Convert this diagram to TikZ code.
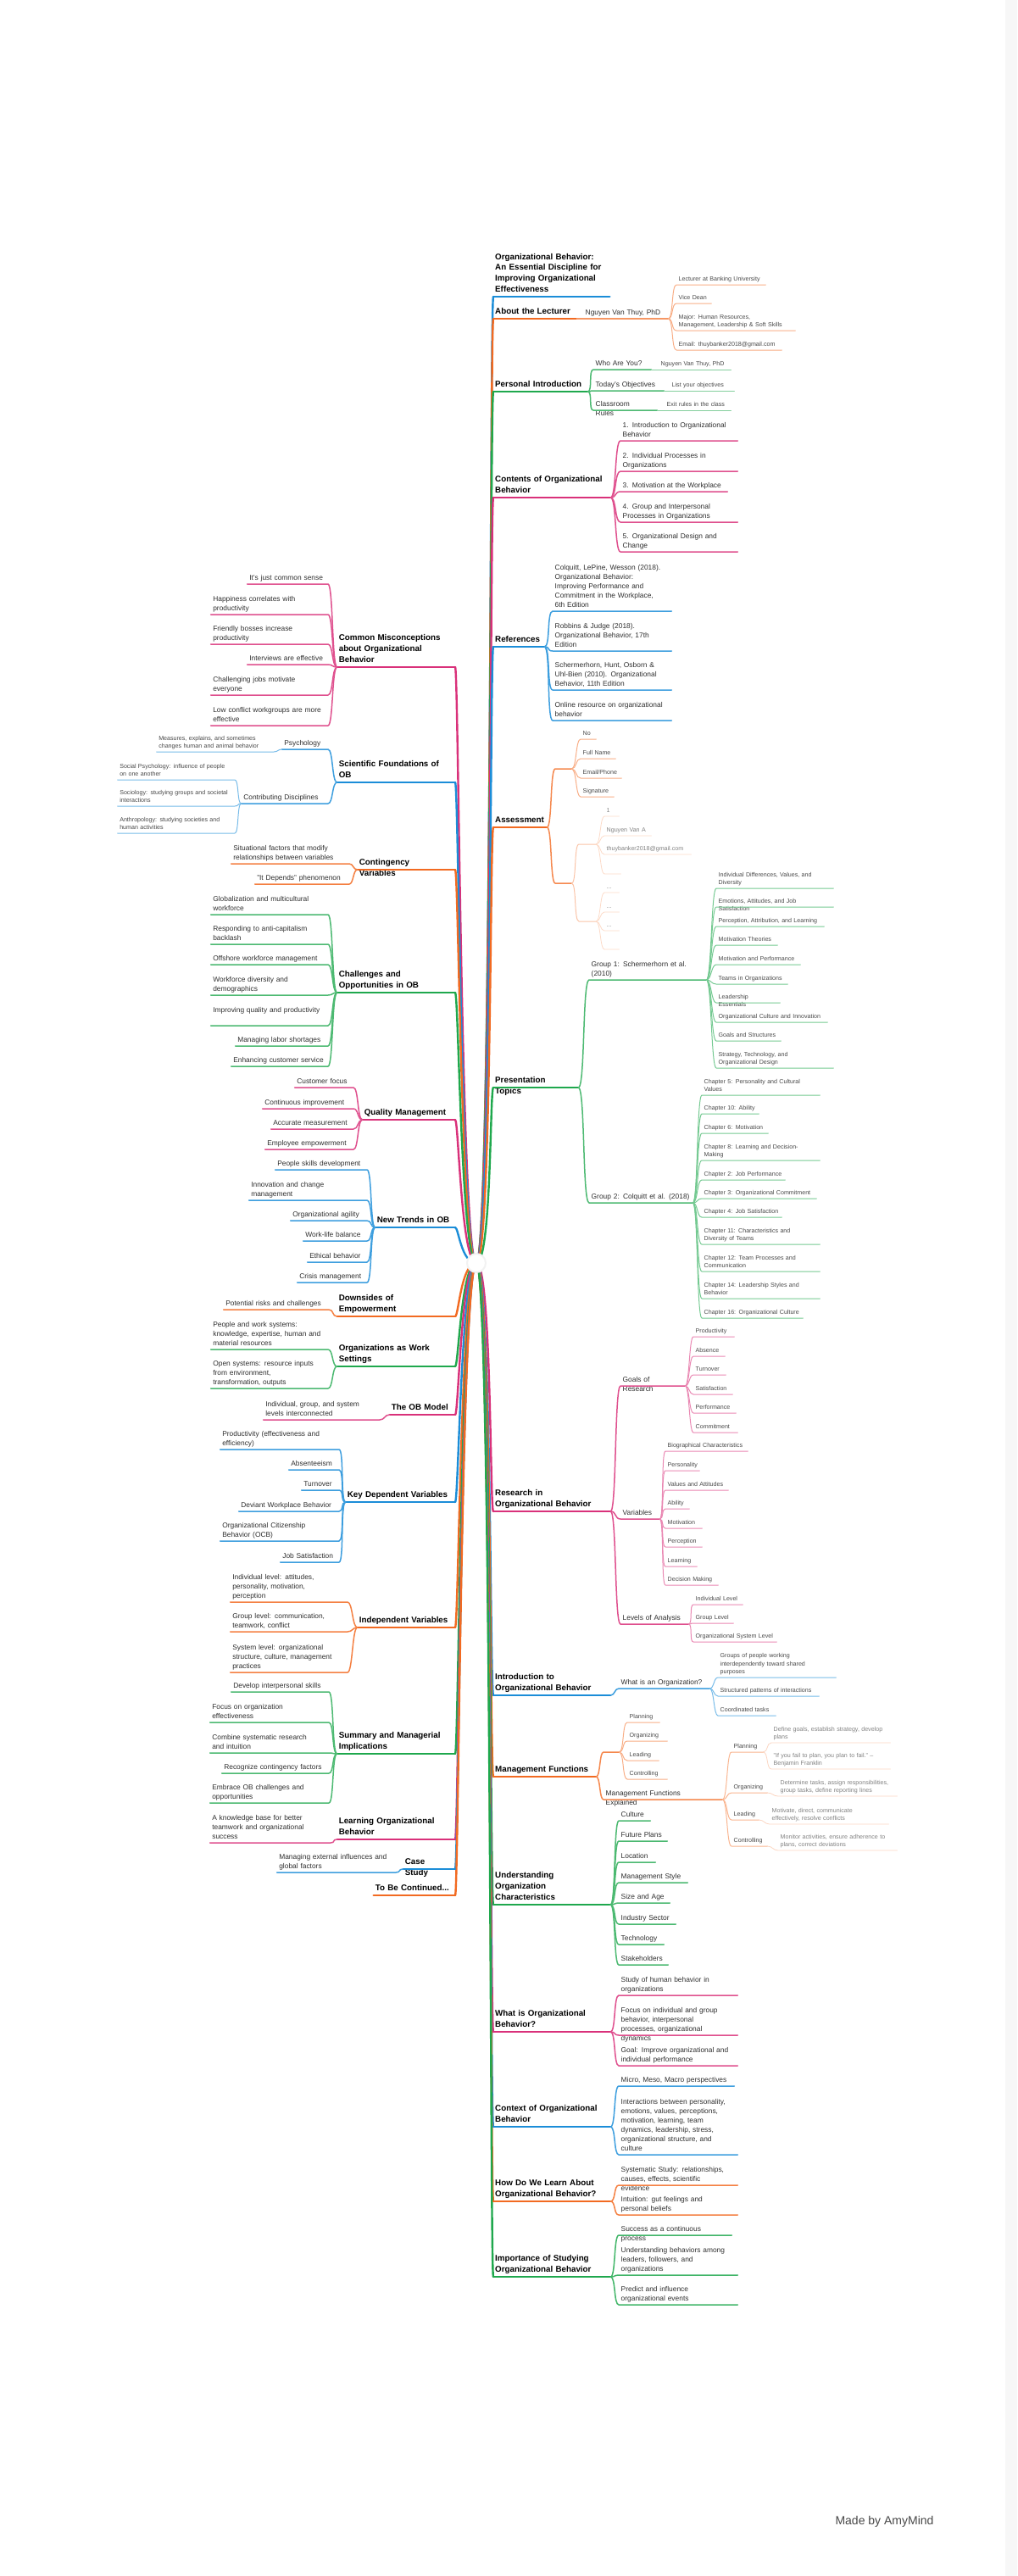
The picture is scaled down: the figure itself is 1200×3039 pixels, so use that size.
\documentclass[tikz,border=0pt]{standalone}
\usepackage{fontspec}
\setmainfont{Liberation Sans}
\usepackage{xcolor}
\usetikzlibrary{positioning, backgrounds}

\definecolor{obblue}{HTML}{1B8DD8}
\definecolor{oborange}{HTML}{F26A21}
\definecolor{obgreen}{HTML}{1FA84D}
\definecolor{obpink}{HTML}{D9317A}
\newcommand\dropline[2]{\leavevmode\rlap{\raisebox{-#1}[0pt][0pt]{#2}}}

\tikzset{
  topic/.style={anchor=south west, align=left, inner xsep=2pt, inner ysep=1.5pt,
    font=\bfseries\fontsize{9.8}{12.8}\selectfont, text=black, execute at end node=\strut},
  sub/.style={anchor=south west, align=left, inner xsep=2.5pt, inner ysep=1.5pt,
    font=\fontsize{8.4}{11}\selectfont, text=black!82, execute at end node=\strut},
  leaf/.style={sub, font=\fontsize{7.1}{9.3}\selectfont, text=black!72},
  faint/.style={leaf, text=black!50},
  toleft/.style={anchor=south east},
  l1/.style={line width=2.4pt, line cap=round},
  l2/.style={line width=1.5pt, line cap=round},
  l3/.style={line width=1pt, line cap=round},
  l4/.style={line width=0.8pt, line cap=round},
  hub/.style={circle, fill=white, draw=black!5, line width=2pt, minimum size=22pt, inner sep=0pt}
}

\begin{document}
\begin{tikzpicture}[x=1pt, y=-1pt]
\useasboundingbox (0,0) rectangle (1200,3039);
\fill[black!3] (1186,0) rectangle (1200,3039);
\node[hub] (hub) at (562,1490) {};

% main branches, right of the hub
\foreach \nm/\y/\w/\col/\txt in {title/350/133/obblue/{Organizational Behavior:\\An Essential Discipline for\\Improving Organizational\\Effectiveness},%
    lect/376/94/oborange/{About the Lecturer},%
    pintro/462/107/obgreen/{Personal Introduction},%
    cont/587/134/obpink/{Contents of Organizational\\Behavior},%
    refs/763/56/obblue/{References},%
    assess/976/59/oborange/{Assessment},%
    pres/1283/96/obgreen/{\dropline{13pt}{Topics}Presentation},%
    research/1783/134/obpink/{Research in\\Organizational Behavior},%
    intro/2000/134/obblue/{Introduction to\\Organizational Behavior},%
    mgmt/2096/117/oborange/{Management Functions},%
    orgchar/2247/134/obgreen/{Understanding\\Organization\\Characteristics},%
    whatob/2397/134/obpink/{What is Organizational\\Behavior?},%
    context/2509/134/obblue/{Context of Organizational\\Behavior},%
    learn/2597/134/oborange/{How Do We Learn About\\Organizational Behavior?},%
    importance/2686/134/obgreen/{Importance of Studying\\Organizational Behavior}} {
  \node[topic, text width=\w pt] (\nm) at (582,\y) {\txt};
  \draw[l1, draw=\col] (\nm.south west) -- (\nm.south east);
  \begin{pgfonlayer}{background}
    \draw[l1, draw=\col] (hub.center) .. controls +(18,0) and +(-4,0) .. (\nm.south west);
  \end{pgfonlayer}
}

% main branches, left of the hub
\foreach \nm/\y/\w/\col/\txt in {miscon/787/135/obpink/{Common Misconceptions\\about Organizational\\Behavior},%
    science/923/135/obblue/{Scientific Foundations of\\OB},%
    conting/1026/111/oborange/{\dropline{13pt}{Variables}Contingency},%
    challenge/1171/135/obgreen/{Challenges and\\Opportunities in OB},%
    quality/1321/105/obpink/{Quality Management},%
    trends/1448/90/obblue/{New Trends in OB},%
    downside/1553/135/oborange/{Downsides of\\Empowerment},%
    worksets/1612/135/obgreen/{Organizations as Work\\Settings},%
    obmodel/1669/73/obpink/{The OB Model},%
    depvar/1772/125/obblue/{Key Dependent Variables},%
    indepvar/1920/111/oborange/{Independent Variables},%
    summary/2069/135/obgreen/{Summary and Managerial\\Implications},%
    learnob/2170/135/obpink/{Learning Organizational\\Behavior},%
    casestudy/2205/57/obblue/{\dropline{13pt}{Study}Case},%
    tbc/2236/92/oborange/{To Be Continued...}} {
  \node[topic, toleft, text width=\w pt] (\nm) at (537,\y) {\txt};
  \draw[l1, draw=\col] (\nm.south west) -- (\nm.south east);
  \begin{pgfonlayer}{background}
    \draw[l1, draw=\col] (hub.center) .. controls +(-18,0) and +(4,0) .. (\nm.south east);
  \end{pgfonlayer}
}

% about the lecturer
\node[sub, text width=95pt] (lectsub) at (688,376) {Nguyen Van Thuy, PhD};
\draw[l2, oborange!70] (lect.south east) -- (lectsub.south west) -- (lectsub.south east);
\foreach \y/\w/\txt [count=\i] in {336/100/{Lecturer at Banking University},%
    358/36/{Vice Dean},%
    390/135/{Major: Human Resources,\\Management, Leadership \& Soft Skills},%
    413/119/{Email: thuybanker2018@gmail.com}} {
  \node[leaf, text width=\w pt] (lect\i) at (798,\y) {\txt};
  \draw[l3, oborange!55] (lect\i.south west) -- (lect\i.south east)
    (lectsub.south east) .. controls +(6,0) and +(-6,0) .. (lect\i.south west);
}

% personal introduction
\foreach \nm/\y/\w/\txt/\lx/\lw/\ltxt in {who/436/63/{Who Are You?}/777/80/{Nguyen Van Thuy, PhD},%
    obj/461/78/{Today's Objectives}/790/71/{List your objectives},%
    rules/484/70/{\dropline{11pt}{Rules}Classroom}/784/73/{Exit rules in the class}} {
  \node[sub, text width=\w pt] (\nm) at (700,\y) {\txt};
  \node[leaf, text width=\lw pt] (\nm-l) at (\lx,\y) {\ltxt};
  \draw[l2, obgreen!80] (\nm.south west) -- (\nm.south east)
    (pintro.south east) .. controls +(6,0) and +(-6,0) .. (\nm.south west);
  \draw[l3, obgreen!55] (\nm-l.south west) -- (\nm-l.south east)
    (\nm.south east) .. controls +(4,0) and +(-4,0) .. (\nm-l.south west);
}

% contents
\foreach \y/\w/\txt [count=\i] in {520/133/{1. Introduction to Organizational\\Behavior},%
    556/133/{2. Individual Processes in\\Organizations},%
    580/121/{3. Motivation at the Workplace},%
    616/133/{4. Group and Interpersonal\\Processes in Organizations},%
    651/133/{5. Organizational Design and\\Change}} {
  \node[sub, text width=\w pt] (cont\i) at (732,\y) {\txt};
  \draw[l2, obpink!85] (cont\i.south west) -- (cont\i.south east)
    (cont.south east) .. controls +(7,0) and +(-7,0) .. (cont\i.south west);
}

% references
\foreach \y/\txt [count=\i] in {721/{Colquitt, LePine, Wesson (2018).\\Organizational Behavior:\\Improving Performance and\\Commitment in the Workplace,\\6th Edition},%
    768/{Robbins \& Judge (2018).\\Organizational Behavior, 17th\\Edition},%
    814/{Schermerhorn, Hunt, Osborn \&\\Uhl-Bien (2010). Organizational\\Behavior, 11th Edition},%
    850/{Online resource on organizational\\behavior}} {
  \node[sub, text width=135pt] (refs\i) at (652,\y) {\txt};
  \draw[l2, obblue!85] (refs\i.south west) -- (refs\i.south east)
    (refs.south east) .. controls +(7,0) and +(-7,0) .. (refs\i.south west);
}

% assessment
\foreach \nm/\y in {asA/907, asB/1042} {
  \node[sub, text width=14pt] (\nm) at (655,\y) {};
  \draw[l2, oborange!80] (\nm.south west) -- (\nm.south east)
    (assess.south east) .. controls +(6,0) and +(-6,0) .. (\nm.south west);
}
\foreach \y/\w/\txt [count=\i] in {872/13/{No}, 895/36/{Full Name}, 918/43/{Email/Phone}, 940/34/{Signature}} {
  \node[leaf, text width=\w pt] (asA\i) at (685,\y) {\txt};
  \draw[l3, oborange!55] (asA\i.south west) -- (asA\i.south east)
    (asA.south east) .. controls +(6,0) and +(-6,0) .. (asA\i.south west);
}
\foreach \nm/\y in {asC/996, asD/1087} {
  \node[leaf, text width=15pt] (\nm) at (683,\y) {};
  \draw[l3, oborange!40] (\nm.south west) -- (\nm.south east)
    (asB.south east) .. controls +(6,0) and +(-6,0) .. (\nm.south west);
}
\foreach \p/\y/\w/\txt [count=\i] in {asC/963/12/{1}, asC/986/50/{Nguyen Van A}, asC/1008/97/{thuybanker2018@gmail.com}, asC/1031/14/{},%
    asD/1053/12/{...}, asD/1076/12/{...}, asD/1098/12/{...}, asD/1120/12/{}} {
  \node[faint, text width=\w pt] (asx\i) at (713,\y) {\txt};
  \draw[l4, oborange!25] (asx\i.south west) -- (asx\i.south east)
    (\p.south east) .. controls +(5,0) and +(-5,0) .. (asx\i.south west);
}

% presentation topics
\foreach \nm/\y/\w/\txt in {grp1/1156/133/{Group 1: Schermerhorn et al.\\(2010)}, grp2/1419/117/{Group 2: Colquitt et al. (2018)}} {
  \node[sub, text width=\w pt] (\nm) at (695,\y) {\txt};
  \draw[l2, obgreen!80] (\nm.south west) -- (\nm.south east)
    (pres.south east) .. controls +(8,0) and +(-8,0) .. (\nm.south west);
}
\foreach \y/\w/\txt [count=\i] in {1048/133/{Individual Differences, Values, and\\Diversity},%
    1070/133/{\dropline{9.3pt}{Satisfaction}Emotions, Attitudes, and Job},%
    1093/122/{Perception, Attribution, and Learning},%
    1115/67/{Motivation Theories},%
    1138/94/{Motivation and Performance},%
    1161/79/{Teams in Organizations},%
    1183/70/{\dropline{9.3pt}{Essentials}Leadership},%
    1206/126/{Organizational Culture and Innovation},%
    1228/71/{Goals and Structures},%
    1260/133/{Strategy, Technology, and\\Organizational Design}} {
  \node[leaf, text width=\w pt] (grp1\i) at (845,\y) {\txt};
  \draw[l3, obgreen!62] (grp1\i.south west) -- (grp1\i.south east)
    (grp1.south east) .. controls +(6,0) and +(-6,0) .. (grp1\i.south west);
}
\foreach \y/\w/\txt [count=\i] in {1292/134/{Chapter 5: Personality and Cultural\\Values},%
    1314/62/{Chapter 10: Ability},%
    1337/73/{Chapter 6: Motivation},%
    1369/134/{Chapter 8: Learning and Decision-\\Making},%
    1392/93/{Chapter 2: Job Performance},%
    1414/130/{Chapter 3: Organizational Commitment},%
    1436/89/{Chapter 4: Job Satisfaction},%
    1468/134/{Chapter 11: Characteristics and\\Diversity of Teams},%
    1500/134/{Chapter 12: Team Processes and\\Communication},%
    1532/134/{Chapter 14: Leadership Styles and\\Behavior},%
    1555/114/{Chapter 16: Organizational Culture}} {
  \node[leaf, text width=\w pt] (grp2\i) at (828,\y) {\txt};
  \draw[l3, obgreen!62] (grp2\i.south west) -- (grp2\i.south east)
    (grp2.south east) .. controls +(6,0) and +(-6,0) .. (grp2\i.south west);
}

% research in organizational behavior
\foreach \nm/\y/\w/\txt in {goals/1635/71/{\dropline{11pt}{Research}Goals of}, vars/1792/41/{Variables}, levels/1916/75/{Levels of Analysis}} {
  \node[sub, text width=\w pt] (\nm) at (732,\y) {\txt};
  \draw[l2, obpink!85] (\nm.south west) -- (\nm.south east)
    (research.south east) .. controls +(7,0) and +(-7,0) .. (\nm.south west);
}
\foreach \p/\x/\y/\w/\txt [count=\i] in {goals/818/1577/43/{Productivity}, goals/818/1600/32/{Absence}, goals/818/1622/33/{Turnover},%
    goals/818/1645/41/{Satisfaction}, goals/818/1667/45/{Performance}, goals/818/1690/47/{Commitment},%
    vars/785/1712/92/{Biographical Characteristics}, vars/785/1735/35/{Personality}, vars/785/1758/69/{Values and Attitudes},%
    vars/785/1780/23/{Ability}, vars/785/1803/38/{Motivation}, vars/785/1825/38/{Perception},%
    vars/785/1848/32/{Learning}, vars/785/1870/57/{Decision Making},%
    levels/818/1893/53/{Individual Level}, levels/818/1915/42/{Group Level}, levels/818/1937/93/{Organizational System Level}} {
  \node[leaf, text width=\w pt] (res\i) at (\x,\y) {\txt};
  \draw[l3, obpink!58] (res\i.south west) -- (res\i.south east)
    (\p.south east) .. controls +(5,0) and +(-5,0) .. (res\i.south west);
}

% introduction to organizational behavior
\node[sub, text width=102pt] (whatorg) at (730,1992) {What is an Organization?};
\draw[l2, obblue!85] (whatorg.south west) -- (whatorg.south east)
  (intro.south east) .. controls +(5,0) and +(-5,0) .. (whatorg.south west);
\foreach \y/\w/\txt [count=\i] in {1979/134/{Groups of people working\\interdependently toward shared\\purposes},%
    2001/114/{Structured patterns of interactions},%
    2024/63/{Coordinated tasks}} {
  \node[leaf, text width=\w pt] (whatorg\i) at (847,\y) {\txt};
  \draw[l3, obblue!60] (whatorg\i.south west) -- (whatorg\i.south east)
    (whatorg.south east) .. controls +(5,0) and +(-5,0) .. (whatorg\i.south west);
}

% management functions
\node[sub, text width=13pt] (mfa) at (712,2067) {};
\node[sub, text width=135pt] (mfb) at (712,2123) {\dropline{11pt}{Explained}Management Functions};
\foreach \nm in {mfa, mfb}
  \draw[l2, oborange!80] (\nm.south west) -- (\nm.south east)
    (mgmt.south east) .. controls +(5,0) and +(-5,0) .. (\nm.south west);
\foreach \y/\w/\txt [count=\i] in {2032/33/{Planning}, 2054/42/{Organizing}, 2077/32/{Leading}, 2099/42/{Controlling}} {
  \node[leaf, text width=\w pt] (mfa\i) at (740,\y) {\txt};
  \draw[l3, oborange!55] (mfa\i.south west) -- (mfa\i.south east)
    (mfa.south east) .. controls +(6,0) and +(-6,0) .. (mfa\i.south west);
}
\foreach \nm/\y/\w/\txt in {mp/2067/32/{Planning}, mo/2115/37/{Organizing}, ml/2147/27/{Leading}, mc/2178/37/{Controlling}} {
  \node[leaf, text width=\w pt] (\nm) at (863,\y) {\txt};
  \draw[l3, oborange!50] (\nm.south west) -- (\nm.south east)
    (mfb.south east) .. controls +(6,0) and +(-6,0) .. (\nm.south west);
}
\foreach \p/\x/\y/\txt [count=\i] in {mp/910/2056/{Define goals, establish strategy, develop\\plans},%
    mp/910/2087/{"If you fail to plan, you plan to fail." –\\Benjamin Franklin},%
    mo/918/2119/{Determine tasks, assign responsibilities,\\group tasks, define reporting lines},%
    ml/908/2152/{Motivate, direct, communicate\\effectively, resolve conflicts},%
    mc/918/2183/{Monitor activities, ensure adherence to\\plans, correct deviations}} {
  \node[faint, text width=135pt] (mx\i) at (\x,\y) {\txt};
  \draw[l4, oborange!28] (mx\i.south west) -- (mx\i.south east)
    (\p.south east) .. controls +(6,0) and +(-6,0) .. (mx\i.south west);
}

% understanding organization characteristics
\foreach \y/\w/\txt [count=\i] in {2148/32/{Culture}, 2172/52/{Future Plans}, 2197/38/{Location}, 2221/76/{Management Style},%
    2245/55/{Size and Age}, 2270/62/{Industry Sector}, 2294/48/{Technology}, 2318/53/{Stakeholders}} {
  \node[sub, text width=\w pt] (orgchar\i) at (730,\y) {\txt};
  \draw[l2, obgreen!80] (orgchar\i.south west) -- (orgchar\i.south east)
    (orgchar.south east) .. controls +(6,0) and +(-6,0) .. (orgchar\i.south west);
}

% last four branches on the right
\foreach \p/\y/\w/\col/\txt [count=\i] in {whatob/2354/135/obpink/{Study of human behavior in\\organizations},%
    whatob/2401/135/obpink/{Focus on individual and group\\behavior, interpersonal\\\dropline{11pt}{dynamics}processes, organizational},%
    whatob/2437/135/obpink/{Goal: Improve organizational and\\individual performance},%
    context/2461/131/obblue/{Micro, Meso, Macro perspectives},%
    context/2542/135/obblue/{Interactions between personality,\\emotions, values, perceptions,\\motivation, learning, team\\dynamics, leadership, stress,\\organizational structure, and\\culture},%
    learn/2578/135/oborange/{Systematic Study: relationships,\\\dropline{11pt}{evidence}causes, effects, scientific},%
    learn/2613/135/oborange/{Intuition: gut feelings and\\personal beliefs},%
    importance/2637/128/obgreen/{\dropline{11pt}{process}Success as a continuous},%
    importance/2684/135/obgreen/{Understanding behaviors among\\leaders, followers, and\\organizations},%
    importance/2719/135/obgreen/{Predict and influence\\organizational events}} {
  \node[sub, text width=\w pt] (rest\i) at (730,\y) {\txt};
  \draw[l2, draw=\col!85] (rest\i.south west) -- (rest\i.south east)
    (\p.south east) .. controls +(6,0) and +(-6,0) .. (rest\i.south west);
}

% common misconceptions
\foreach \y/\w/\txt [count=\i] in {689/90/{It's just common sense},%
    725/133/{Happiness correlates with\\productivity},%
    760/133/{Friendly bosses increase\\productivity},%
    784/90/{Interviews are effective},%
    820/133/{Challenging jobs motivate\\everyone},%
    856/133/{Low conflict workgroups are more\\effective}} {
  \node[sub, toleft, text width=\w pt] (miscon\i) at (387,\y) {\txt};
  \draw[l2, obpink!85] (miscon\i.south west) -- (miscon\i.south east)
    (miscon.south west) .. controls +(-6,0) and +(6,0) .. (miscon\i.south east);
}

% scientific foundations
\foreach \nm/\y/\w/\txt in {psych/884/49/{Psychology}, contrib/948/97/{Contributing Disciplines}} {
  \node[sub, toleft, text width=\w pt] (\nm) at (387,\y) {\txt};
  \draw[l2, obblue!85] (\nm.south west) -- (\nm.south east)
    (science.south west) .. controls +(-6,0) and +(6,0) .. (\nm.south east);
}
\foreach \p/\x/\y/\txt [count=\i] in {psych/323/887/{Measures, explains, and sometimes\\changes human and animal behavior},%
    contrib/277/920/{Social Psychology: influence of people\\on one another},%
    contrib/277/951/{Sociology: studying groups and societal\\interactions},%
    contrib/277/983/{Anthropology: studying societies and\\human activities}} {
  \node[leaf, toleft, text width=133pt] (sci\i) at (\x,\y) {\txt};
  \draw[l3, obblue!60] (sci\i.south west) -- (sci\i.south east)
    (\p.south west) .. controls +(-5,0) and +(5,0) .. (sci\i.south east);
}

% contingency variables
\foreach \y/\w/\txt [count=\i] in {1019/134/{Situational factors that modify\\relationships between variables},%
    1043/106/{"It Depends" phenomenon}} {
  \node[sub, toleft, text width=\w pt] (conting\i) at (412,\y) {\txt};
  \draw[l2, oborange!85] (conting\i.south west) -- (conting\i.south east)
    (conting.south west) .. controls +(-5,0) and +(5,0) .. (conting\i.south east);
}

% challenges and opportunities
\foreach \y/\w/\txt [count=\i] in {1079/133/{Globalization and multicultural\\workforce},%
    1114/133/{Responding to anti-capitalism\\backlash},%
    1138/133/{Offshore workforce management},%
    1174/133/{Workforce diversity and\\demographics},%
    1210/133/{Improving quality and productivity\\},%
    1234/104/{Managing labor shortages},%
    1258/109/{Enhancing customer service}} {
  \node[sub, toleft, text width=\w pt] (challenge\i) at (387,\y) {\txt};
  \draw[l2, obgreen!80] (challenge\i.south west) -- (challenge\i.south east)
    (challenge.south west) .. controls +(-6,0) and +(6,0) .. (challenge\i.south east);
}

% quality management
\foreach \y/\w/\txt [count=\i] in {1283/64/{Customer focus}, 1308/102/{Continuous improvement},%
    1332/92/{Accurate measurement}, 1356/99/{Employee empowerment}} {
  \node[sub, toleft, text width=\w pt] (quality\i) at (417,\y) {\txt};
  \draw[l2, obpink!85] (quality\i.south west) -- (quality\i.south east)
    (quality.south west) .. controls +(-6,0) and +(6,0) .. (quality\i.south east);
}

% new trends
\foreach \y/\w/\txt [count=\i] in {1380/103/{People skills development}, 1416/134/{Innovation and change\\management},%
    1440/85/{Organizational agility}, 1464/70/{Work-life balance}, 1489/65/{Ethical behavior}, 1513/77/{Crisis management}} {
  \node[sub, toleft, text width=\w pt] (trends\i) at (433,\y) {\txt};
  \draw[l2, obblue!85] (trends\i.south west) -- (trends\i.south east)
    (trends.south west) .. controls +(-6,0) and +(6,0) .. (trends\i.south east);
}

% branches with one child
\foreach \p/\x/\y/\w/\col/\txt in {downside/388/1545/119/oborange/{Potential risks and challenges},%
    obmodel/448/1675/132/obpink/{Individual, group, and system\\levels interconnected},%
    learnob/390/2174/137/obpink/{A knowledge base for better\\teamwork and organizational\\success},%
    casestudy/467/2209/135/obblue/{Managing external influences and\\global factors}} {
  \node[sub, toleft, text width=\w pt] (\p1) at (\x,\y) {\txt};
  \draw[l2, draw=\col!85] (\p1.south west) -- (\p1.south east)
    (\p.south west) .. controls +(-6,0) and +(6,0) .. (\p1.south east);
}

% organizations as work settings
\foreach \y/\txt [count=\i] in {1592/{People and work systems:\\knowledge, expertise, human and\\material resources},%
    1638/{Open systems: resource inputs\\from environment,\\transformation, outputs}} {
  \node[sub, toleft, text width=133pt] (worksets\i) at (387,\y) {\txt};
  \draw[l2, obgreen!80] (worksets\i.south west) -- (worksets\i.south east)
    (worksets.south west) .. controls +(-6,0) and +(6,0) .. (worksets\i.south east);
}

% key dependent variables
\foreach \y/\w/\txt [count=\i] in {1710/135/{Productivity (effectiveness and\\efficiency)}, 1734/54/{Absenteeism},%
    1758/39/{Turnover}, 1783/113/{Deviant Workplace Behavior},%
    1818/135/{Organizational Citizenship\\Behavior (OCB)}, 1843/64/{Job Satisfaction}} {
  \node[sub, toleft, text width=\w pt] (depvar\i) at (400,\y) {\txt};
  \draw[l2, obblue!85] (depvar\i.south west) -- (depvar\i.south east)
    (depvar.south west) .. controls +(-6,0) and +(6,0) .. (depvar\i.south east);
}

% independent variables
\foreach \y/\txt [count=\i] in {1890/{Individual level: attitudes,\\personality, motivation,\\perception},%
    1925/{Group level: communication,\\teamwork, conflict},%
    1973/{System level: organizational\\structure, culture, management\\practices}} {
  \node[sub, toleft, text width=133pt] (indepvar\i) at (410,\y) {\txt};
  \draw[l2, oborange!85] (indepvar\i.south west) -- (indepvar\i.south east)
    (indepvar.south west) .. controls +(-6,0) and +(6,0) .. (indepvar\i.south east);
}

% summary and managerial implications
\foreach \y/\w/\txt [count=\i] in {1996/110/{Develop interpersonal skills}, 2032/135/{Focus on organization\\effectiveness},%
    2068/135/{Combine systematic research\\and intuition}, 2092/121/{Recognize contingency factors},%
    2127/135/{Embrace OB challenges and\\opportunities}} {
  \node[sub, toleft, text width=\w pt] (summary\i) at (388,\y) {\txt};
  \draw[l2, obgreen!80] (summary\i.south west) -- (summary\i.south east)
    (summary.south west) .. controls +(-6,0) and +(6,0) .. (summary\i.south east);
}

\node[font=\fontsize{14}{16}\selectfont, text=black!72, anchor=east] (credit) at (1105,2975) {Made by AmyMind};
\end{tikzpicture}
\end{document}
